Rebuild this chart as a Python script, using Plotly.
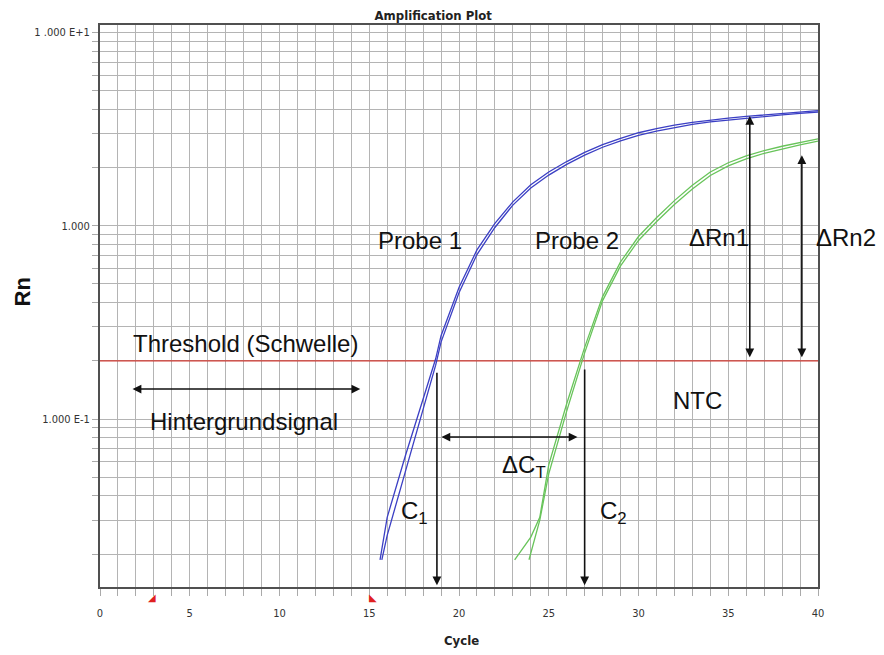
import numpy as np
import plotly.graph_objects as go

# --- data ---
cycles_blue_a = [15.6, 16, 17, 18, 18.7, 19, 20, 21, 22, 23, 24, 25, 26, 27, 28, 29, 30,
                 31, 32, 33, 34, 35, 36, 37, 38, 39, 40]
rn_blue_a = [0.0187, 0.031, 0.064, 0.128, 0.205, 0.27, 0.48, 0.75, 1.03, 1.33, 1.63, 1.9,
             2.15, 2.4, 2.63, 2.83, 3.03, 3.18, 3.32, 3.43, 3.53, 3.61, 3.68, 3.75, 3.82,
             3.88, 3.94]
cycles_blue_b = [15.7, 16, 17, 18, 18.7, 19, 20, 21, 22, 23, 24, 25, 26, 27, 28, 29, 30,
                 31, 32, 33, 34, 35, 36, 37, 38, 39, 40]
rn_blue_b = [0.0187, 0.025, 0.053, 0.112, 0.19, 0.25, 0.45, 0.71, 0.98, 1.28, 1.57, 1.83,
             2.08, 2.32, 2.55, 2.75, 2.94, 3.09, 3.23, 3.35, 3.45, 3.53, 3.6, 3.67, 3.75,
             3.82, 3.88]

cycles_green_a = [23.1, 24, 24.5, 25, 26, 27, 28, 29, 30, 31, 32, 33, 34, 35, 36, 37, 38,
                  39, 40]
rn_green_a = [0.0187, 0.0245, 0.031, 0.058, 0.12, 0.235, 0.43, 0.65, 0.88, 1.1, 1.35, 1.62,
              1.9, 2.12, 2.3, 2.45, 2.58, 2.7, 2.82]
cycles_green_b = [23.9, 24.5, 25, 26, 27, 28, 29, 30, 31, 32, 33, 34, 35, 36, 37, 38, 39, 40]
rn_green_b = [0.0187, 0.03, 0.052, 0.11, 0.22, 0.41, 0.62, 0.84, 1.05, 1.29, 1.55, 1.82,
              2.04, 2.22, 2.37, 2.5, 2.62, 2.74]

threshold = 0.2
baseline_cycles = [2.9, 15.2]
baseline_marks = ["\u25e2", "\u25e3"]

x_ticks = list(range(0, 41))
x_labels = [str(c) if c % 5 == 0 else "" for c in x_ticks]
y_ticks = [m * 10.0 ** e for e in (-2, -1, 0) for m in range(1, 10)][1:] + [10.0]
y_labels = {0.1: "1.000 E-1", 1.0: "1.000", 10.0: "1 .000 E+1"}

# labels: (text, cycle, Rn)
labels = [
    ("Threshold (Schwelle)", 8.1, 0.247),
    ("Hintergrundsignal", 8.0, 0.0977),
    ("Probe 1", 17.8, 0.843),
    ("Probe 2", 26.6, 0.843),
    ("\u0394Rn1", 34.5, 0.875),
    ("NTC", 33.3, 0.125),
    ("\u0394C<sub>T</sub>", 23.6, 0.0565),
    ("C<sub>1</sub>", 17.5, 0.033),
    ("C<sub>2</sub>", 28.6, 0.0327),
]
# label that sits right of the plot frame (paper x, Rn)
outside_label = ("\u0394Rn2", 1.039, 0.875)

# arrows: (head cycle, head Rn, tail cycle, tail Rn, double headed)
arrows = [
    (14.5, 0.143, 1.73, 0.143, True),
    (26.6, 0.0807, 18.94, 0.0807, True),
    (18.77, 0.0138, 18.77, 0.177, False),
    (27.0, 0.0138, 27.0, 0.184, False),
    (36.2, 3.7, 36.2, 0.205, True),
    (39.1, 2.32, 39.1, 0.205, True),
]

label_font = "Liberation Sans, Arial, sans-serif"
narrow_font = "Liberation Sans Narrow, Arial Narrow, DejaVu Sans Condensed, sans-serif"

fig = go.Figure()

fig.add_trace(go.Scatter(x=[0, 40], y=[threshold, threshold], mode="lines",
                         line=dict(color="#d23a32", width=1.2), cliponaxis=False))
for xs, ys, col in [(cycles_blue_a, rn_blue_a, "#3b3fc4"), (cycles_blue_b, rn_blue_b, "#3b3fc4"),
                    (cycles_green_a, rn_green_a, "#68c45a"), (cycles_green_b, rn_green_b, "#68c45a")]:
    fig.add_trace(go.Scatter(x=xs, y=ys, mode="lines", line=dict(color=col, width=1.3)))

# baseline start/end markers just under the axis
for cx, mark in zip(baseline_cycles, baseline_marks):
    fig.add_annotation(x=cx, y=-0.018, yref="paper", yanchor="middle", xanchor="center",
                       text=mark, showarrow=False,
                       font=dict(family="DejaVu Sans", size=10, color="#e02020"))

for text, cx, ry in labels:
    fig.add_annotation(x=cx, y=np.log10(ry), text=text, showarrow=False,
                       font=dict(family=label_font, size=24, color="#111111"))
fig.add_annotation(x=outside_label[1], xref="paper", xanchor="center",
                   y=np.log10(outside_label[2]), text=outside_label[0], showarrow=False,
                   font=dict(family=label_font, size=24, color="#111111"))

for hx, hy, tx, ty, both in arrows:
    fig.add_annotation(x=hx, y=np.log10(hy), ax=tx, ay=np.log10(ty), axref="x", ayref="y",
                       text="", showarrow=True, arrowhead=2, arrowsize=1.1, arrowwidth=1.6,
                       arrowcolor="#111111", arrowside="end+start" if both else "end",
                       startarrowhead=2, startarrowsize=1.1)

fig.add_annotation(x=0.504, y=-0.096, xref="paper", yref="paper", xanchor="center",
                   yanchor="middle", text="<b>Cycle</b>", showarrow=False,
                   font=dict(family=narrow_font, size=13, color="#222222"))
fig.add_annotation(x=-0.108, y=0.525, xref="paper", yref="paper", xanchor="center",
                   yanchor="middle", text="<b>Rn</b>", textangle=-90, showarrow=False,
                   font=dict(family=label_font, size=22, color="#111111"))

fig.update_layout(
    width=884, height=655,
    margin=dict(l=92, r=74, t=17, b=76),
    paper_bgcolor="white", plot_bgcolor="white",
    showlegend=False,
    title=dict(text="<b>Amplification Plot</b>", x=0.481, xanchor="center",
               y=0.988, yanchor="middle",
               font=dict(family=narrow_font, size=13, color="#222222")),
    xaxis=dict(range=[0, 40], tickvals=x_ticks, ticktext=x_labels, ticks="outside",
               ticklen=7, tickcolor="#aaaaaa", showgrid=True, gridcolor="#b4b4b4",
               gridwidth=1, showline=True, linecolor="#505050", linewidth=2, mirror=True,
               zeroline=False, ticklabelstandoff=8,
               tickfont=dict(family=narrow_font, size=11, color="#333333")),
    yaxis=dict(type="log", range=[-1.869, 1.039], tickvals=y_ticks,
               ticktext=[y_labels.get(round(v, 6), "") for v in y_ticks], ticks="outside",
               ticklen=6, tickcolor="#aaaaaa", showgrid=True, gridcolor="#b4b4b4",
               gridwidth=1, showline=True, linecolor="#505050", linewidth=2, mirror=True,
               zeroline=False,
               tickfont=dict(family=narrow_font, size=11, color="#333333")),
)

fig.write_html("out.html")
